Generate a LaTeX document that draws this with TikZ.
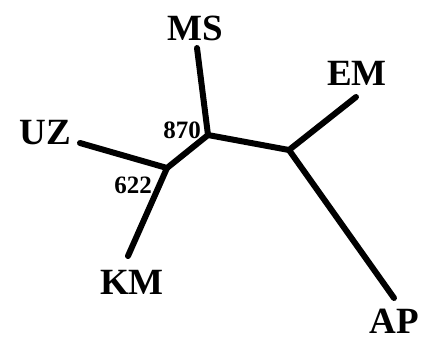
\documentclass[tikz,border=0pt]{standalone}
\usepackage{fontspec}
\setmainfont{Liberation Serif}
\begin{document}
\begin{tikzpicture}[x=1pt,y=-1pt,
every node/.style={font=\bfseries},
branch/.style={line width=6pt,line cap=round,line join=round},
taxon/.style={font=\fontsize{37}{37}\bfseries\selectfont,inner sep=0pt},
boot/.style={font=\fontsize{25}{25}\bfseries\selectfont,inner sep=0pt}]

\useasboundingbox (0,0) rectangle (428,341);

% internal nodes
\coordinate (n870) at (208,135);
\coordinate (n622) at (167,168);
\coordinate (nc) at (289,150);

% tips
\coordinate (ms) at (197,48);
\coordinate (uz) at (80,143);
\coordinate (km) at (128,256);
\coordinate (em) at (356,97);
\coordinate (ap) at (394,298);

\node[taxon] (MS) at (195,28) {MS};
\node[taxon] (UZ) at (45,133) {UZ};
\node[taxon] (KM) at (132,282) {KM};
\node[taxon] (EM) at (357,73) {EM};
\node[taxon] (AP) at (394,321) {AP};

\node[boot] (b870) at (182,130) {870};
\node[boot] (b622) at (133,185) {622};

\draw[branch] (ms) -- (n870) -- (nc) -- (em);
\draw[branch] (nc) -- (ap);
\draw[branch] (n870) -- (n622) -- (uz);
\draw[branch] (n622) -- (km);

\end{tikzpicture}
\end{document}
